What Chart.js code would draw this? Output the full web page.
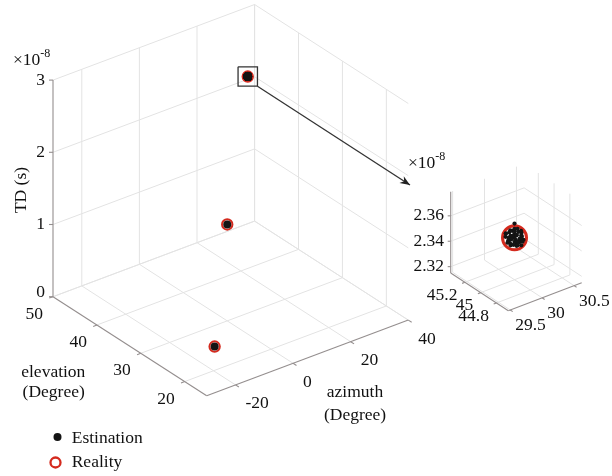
<!DOCTYPE html>
<html><head><meta charset="utf-8">
<script src="https://cdn.jsdelivr.net/npm/chart.js@4.4.0/dist/chart.umd.min.js"></script>
<style>html,body{margin:0;padding:0;background:#fff}canvas{display:block}</style>
</head><body>
<canvas id="c" width="612" height="476"></canvas>
<script>
// ---------------- data ----------------
const azTicks = [-20, 0, 20, 40];
const elTicks = [20, 30, 40, 50];
const tdTicks = [0, 1, 2, 3];            // x 1e-8 s
const insetAzTicks = [29.5, 30, 30.5];
const insetElTicks = [44.8, 45, 45.2];
const insetTdTicks = [2.32, 2.34, 2.36];  // x 1e-8 s

// Reality (true sources)
const realAz = [30, 0, -12];
const realEl = [45, 30, 25];
const realTd = [2.348, 1.335, 0.02];

// Estimation results
const estAz = [
  30.000,30.047,29.937,30.094,29.890,30.016,29.969,30.125,29.875,
  30.063,29.922,30.031,29.984,30.078,29.953,30.110,29.906,30.000,
  30.047,29.937,30.094,29.890,30.016,30.141,29.859,30.063,29.953,
  30.031,29.906,30.078,30.000,29.969,30.110,29.922,30.047,29.875,
  30.016,30.094,29.984,30.063,29.937,30.125,30.031,29.969,30.000,
  0.01, -12.0];
const estEl = [
  45.00,45.01,44.99,45.00,45.02,44.99,45.00,45.01,44.98,
  45.00,45.01,45.00,44.99,45.00,45.02,45.00,44.99,45.00,
  45.01,45.00,44.99,45.00,45.01,45.00,45.00,44.99,45.01,
  45.00,45.00,44.98,45.00,45.01,45.00,44.99,45.00,45.01,
  45.00,44.99,45.00,45.01,45.00,45.00,44.99,45.00,45.00,
  30.00, 25.00];
const estTd = [
  2.3480,2.3487,2.3484,2.3438,2.3525,2.3430,2.3541,2.3464,2.3488,
  2.3515,2.3456,2.3411,2.3514,2.3457,2.3465,2.3498,2.3545,2.3551,
  2.3432,2.3508,2.3407,2.3462,2.3524,2.3437,2.3515,2.3437,2.3426,
  2.3498,2.3498,2.3528,2.3449,2.3478,2.3459,2.3558,2.3542,2.3535,
  2.3461,2.3486,2.3428,2.3405,2.3445,2.3425,2.3450,2.3502,2.3592,
  1.336, 0.021];

// ---------------- layout / views ----------------
const FONT = '17.5px "Liberation Serif", "Times New Roman", serif';
const SUPFONT = '12px "Liberation Serif", "Times New Roman", serif';
const GRID = '#e3e3e3', AXIS = '#948e8e', RED = '#d42a1e', BLK = '#141414';

const mainView = {az:[-30,40], el:[15,50], td:[0,3], o:[206.7,395.7],
  vAz:[201.6,-75.6], vEl:[-153.7,-99], vTd:[0,-216.6], tick:4,
  zLab:{dx:-8, dy0:-4}, elLab:{dx:-10, dy:17.4}, azLab:{dx:10, dy:19}};
const insetView = {az:[29.47,30.62], el:[44.65,45.38], td:[2.315,2.379], o:[508.3,310.7],
  vAz:[73.4,-28], vEl:[-57.6,-37.7], vTd:[0,-81.3], tick:3,
  zLab:{dx:-6.7, dy0:0}, elLab:{dx:-7.5, dy:13}, azLab:{dx:5, dy:15.5}};
const arrowTip = [410, 185];
const zoomBoxHalf = 9.7;

function P(v, a, e, t) {
  const fa = (a - v.az[0]) / (v.az[1] - v.az[0]);
  const fe = (e - v.el[0]) / (v.el[1] - v.el[0]);
  const ft = (t - v.td[0]) / (v.td[1] - v.td[0]);
  return {x: v.o[0] + fa*v.vAz[0] + fe*v.vEl[0] + ft*v.vTd[0],
          y: v.o[1] + fa*v.vAz[1] + fe*v.vEl[1] + ft*v.vTd[1]};
}
function unit(v){ const l=Math.hypot(v[0],v[1]); return [v[0]/l, v[1]/l]; }

const datasets = [];
function addLine(pts, color, width, order) {
  datasets.push({data: pts, showLine: true, borderColor: color, borderWidth: width,
    pointRadius: 0, pointHoverRadius: 0, fill: false, tension: 0, order: order});
}

function buildAxes(v, azT, elT, tdT) {
  const [a0,a1]=v.az, [e0,e1]=v.el, [t0,t1]=v.td;
  const G = (p,q) => addLine([P(v,...p), P(v,...q)], GRID, 1, 30);
  azT.forEach(a => { G([a,e0,t0],[a,e1,t0]); G([a,e1,t0],[a,e1,t1]); });
  elT.forEach(e => { G([a0,e,t0],[a1,e,t0]); G([a1,e,t0],[a1,e,t1]); });
  tdT.forEach(t => { G([a0,e1,t],[a1,e1,t]); G([a1,e0,t],[a1,e1,t]); });
  const A = (p,q) => addLine([P(v,...p), P(v,...q)], AXIS, 1.1, 20);
  A([a0,e1,t0],[a0,e1,t1]);
  A([a0,e0,t0],[a0,e1,t0]);
  A([a0,e0,t0],[a1,e0,t0]);
  const uA = unit(v.vAz), uE = unit(v.vEl), L = v.tick;
  tdT.forEach(t => { const p=P(v,a0,e1,t); addLine([p,{x:p.x-L,y:p.y}], AXIS, 1.1, 20); });
  elT.forEach(e => { const p=P(v,a0,e,t0); addLine([p,{x:p.x-uA[0]*L,y:p.y-uA[1]*L}], AXIS, 1.1, 20); });
  azT.forEach(a => { const p=P(v,a,e0,t0); addLine([p,{x:p.x-uE[0]*L,y:p.y-uE[1]*L}], AXIS, 1.1, 20); });
}
buildAxes(mainView, azTicks, elTicks, tdTicks);
buildAxes(insetView, insetAzTicks, insetElTicks, insetTdTicks);

function inView(v,a,e,t){ return a>=v.az[0]&&a<=v.az[1]&&e>=v.el[0]&&e<=v.el[1]&&t>=v.td[0]&&t<=v.td[1]; }

// main markers
datasets.push({label:'Reality', data: realAz.map((a,i)=>P(mainView,a,realEl[i],realTd[i])),
  pointRadius:5.2, pointBorderWidth:2, pointBorderColor:RED, pointBackgroundColor:'rgba(0,0,0,0)', order:5});
datasets.push({label:'Estination', data: estAz.map((a,i)=>P(mainView,a,estEl[i],estTd[i])),
  pointRadius:4, pointBorderWidth:0, pointBackgroundColor:BLK, pointBorderColor:BLK, order:4});
// inset markers
const rIn = [], eIn = [];
realAz.forEach((a,i)=>{ if(inView(insetView,a,realEl[i],realTd[i])) rIn.push(P(insetView,a,realEl[i],realTd[i])); });
estAz.forEach((a,i)=>{ if(inView(insetView,a,estEl[i],estTd[i])) eIn.push(P(insetView,a,estEl[i],estTd[i])); });
datasets.push({data:rIn, pointRadius:12, pointBorderWidth:3, pointBorderColor:RED, pointBackgroundColor:'rgba(0,0,0,0)', order:5});
datasets.push({data:eIn, pointRadius:2.1, pointBorderWidth:0, pointBackgroundColor:BLK, pointBorderColor:BLK, order:4});

// zoom box + arrow (annotation)
const zp = P(mainView, realAz[0], realEl[0], realTd[0]);
const h = zoomBoxHalf;
addLine([{x:zp.x-h,y:zp.y-h},{x:zp.x+h,y:zp.y-h},{x:zp.x+h,y:zp.y+h},{x:zp.x-h,y:zp.y+h},{x:zp.x-h,y:zp.y-h}], '#333', 1.3, 1);
addLine([{x:zp.x+h,y:zp.y+h},{x:arrowTip[0],y:arrowTip[1]}], '#333', 1.3, 1);

function fmt(v){ return String(v); }

const textPlugin = {
  id: 'texts',
  afterDatasetsDraw(chart) {
    const ctx = chart.ctx;
    const X = v => chart.scales.x.getPixelForValue(v);
    const Y = v => chart.scales.y.getPixelForValue(v);
    ctx.save();
    ctx.fillStyle = '#111';
    ctx.font = FONT;
    function labels(v, azT, elT, tdT) {
      const [a0,a1]=v.az, [e0,e1]=v.el, [t0,t1]=v.td;
      ctx.textBaseline = 'middle';
      ctx.textAlign = 'right';
      tdT.forEach((t,i) => { const p=P(v,a0,e1,t); ctx.fillText(fmt(t), X(p.x+v.zLab.dx), Y(p.y+(i===0?v.zLab.dy0:0))); });
      elT.forEach(e => { const p=P(v,a0,e,t0); ctx.fillText(fmt(e), X(p.x+v.elLab.dx), Y(p.y+v.elLab.dy)); });
      ctx.textAlign = 'left';
      azT.forEach(a => { const p=P(v,a,e0,t0); ctx.fillText(fmt(a), X(p.x+v.azLab.dx), Y(p.y+v.azLab.dy)); });
    }
    labels(mainView, azTicks, elTicks, tdTicks);
    labels(insetView, insetAzTicks, insetElTicks, insetTdTicks);

    // exponent labels
    function expo(x, y) {
      ctx.textAlign = 'left'; ctx.textBaseline = 'alphabetic';
      ctx.font = FONT; ctx.fillText('\u00d710', X(x), Y(y));
      const w = ctx.measureText('\u00d710').width;
      ctx.font = SUPFONT; ctx.fillText('-8', X(x) + w, Y(y - 8));
      ctx.font = FONT;
    }
    expo(13, 65);
    expo(408, 168);

    // axis titles
    ctx.textAlign = 'center'; ctx.textBaseline = 'alphabetic';
    ctx.fillText('elevation', X(53.3), Y(376.7));
    ctx.fillText('(Degree)', X(53.7), Y(397.3));
    ctx.fillText('azimuth', X(355), Y(397));
    ctx.fillText('(Degree)', X(355), Y(420));
    ctx.save();
    ctx.translate(X(25.5), Y(190));
    ctx.rotate(-Math.PI/2);
    ctx.fillText('TD (s)', 0, 0);
    ctx.restore();

    // arrow head
    const sx = zp.x + h, sy = zp.y + h;
    const u = unit([arrowTip[0]-sx, arrowTip[1]-sy]);
    const tx = X(arrowTip[0]), ty = Y(arrowTip[1]);
    const len = 10, wd = 4;
    ctx.fillStyle = '#222';
    ctx.beginPath();
    ctx.moveTo(tx, ty);
    ctx.lineTo(tx - u[0]*len - u[1]*wd, ty - u[1]*len + u[0]*wd);
    ctx.lineTo(tx - u[0]*len*0.7, ty - u[1]*len*0.7);
    ctx.lineTo(tx - u[0]*len + u[1]*wd, ty - u[1]*len - u[0]*wd);
    ctx.closePath();
    ctx.fill();

    // legend
    ctx.fillStyle = BLK;
    ctx.beginPath(); ctx.arc(X(57.5), Y(437), 4, 0, 2*Math.PI); ctx.fill();
    ctx.strokeStyle = RED; ctx.lineWidth = 2.3;
    ctx.beginPath(); ctx.arc(X(55.5), Y(462.5), 5, 0, 2*Math.PI); ctx.stroke();
    ctx.fillStyle = '#111';
    ctx.textAlign = 'left'; ctx.textBaseline = 'alphabetic';
    ctx.fillText('Estination', X(71.7), Y(443.3));
    ctx.fillText('Reality', X(71.7), Y(466.7));
    ctx.restore();
  }
};

new Chart(document.getElementById('c'), {
  type: 'scatter',
  data: {datasets},
  options: {
    responsive: false, animation: false, events: [],
    layout: {padding: 0, autoPadding: false},
    plugins: {legend: {display: false}, tooltip: {enabled: false}},
    scales: {
      x: {type: 'linear', min: 0, max: 612, display: false},
      y: {type: 'linear', min: 0, max: 476, reverse: true, display: false}
    }
  },
  plugins: [textPlugin]
});
</script>
</body></html>
